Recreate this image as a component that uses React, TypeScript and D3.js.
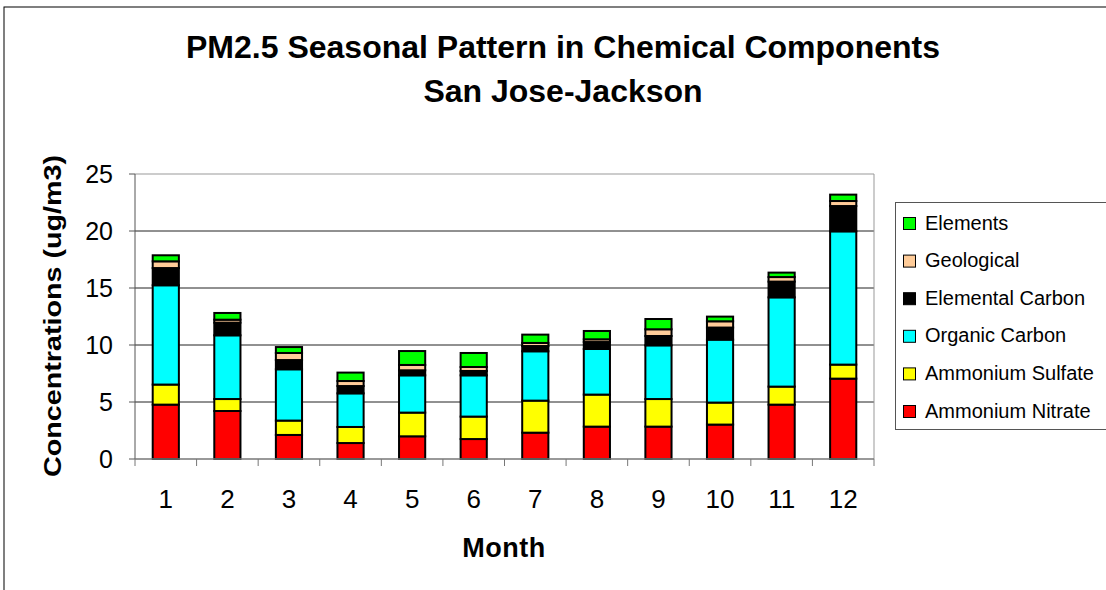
import React from "react";
import * as d3 from "d3";

const months = ["1", "2", "3", "4", "5", "6", "7", "8", "9", "10", "11", "12"];
const ammoniumNitrate = [4.77, 4.21, 2.11, 1.4, 1.99, 1.75, 2.31, 2.84, 2.84, 3.02, 4.77, 7.05];
const ammoniumSulfate = [1.76, 1.05, 1.26, 1.41, 2.08, 1.97, 2.81, 2.81, 2.42, 1.93, 1.58, 1.23];
const organicCarbon = [8.71, 5.59, 4.5, 2.95, 3.27, 3.62, 4.33, 4.0, 4.71, 5.52, 7.83, 11.69];
const elementalCarbon = [1.51, 1.11, 0.81, 0.64, 0.44, 0.38, 0.46, 0.61, 0.82, 1.06, 1.38, 2.22];
const geological = [0.59, 0.26, 0.62, 0.44, 0.47, 0.35, 0.27, 0.24, 0.59, 0.55, 0.4, 0.44];
const elements = [0.53, 0.59, 0.52, 0.74, 1.22, 1.23, 0.73, 0.73, 0.9, 0.41, 0.39, 0.56];

const seriesNames = ["Ammonium Nitrate", "Ammonium Sulfate", "Organic Carbon", "Elemental Carbon", "Geological", "Elements"];
const seriesValues = [ammoniumNitrate, ammoniumSulfate, organicCarbon, elementalCarbon, geological, elements];
const seriesColors = ["#FF0000", "#FFFF00", "#00FFFF", "#000000", "#FFCC99", "#00FF00"];
const yTicks = [0, 5, 10, 15, 20, 25];

const W = 1106;
const H = 590;
const plot = { left: 135, right: 874, top: 174, bottom: 459 };
const FONT = "'Liberation Sans', Arial, sans-serif";

export default function App() {
  const x = d3.scaleBand<string>().domain(months).range([plot.left, plot.right]).paddingInner(0.575).paddingOuter(0.2875);
  const xTick = d3.scaleLinear().domain([0, months.length]).range([plot.left, plot.right]);
  const y = d3.scaleLinear().domain([0, 25]).range([plot.bottom, plot.top]);

  const table = months.map((m, i) => {
    const row: Record<string, any> = { month: m };
    seriesNames.forEach((s, k) => (row[s] = seriesValues[k][i]));
    return row;
  });
  const stacked = d3.stack().keys(seriesNames)(table as any);

  const legendItems = [...seriesNames.map((n, i) => ({ n, c: seriesColors[i] }))].reverse();

  return (
    <svg width={W} height={H} style={{ position: "absolute", left: 0, top: 0, background: "#fff" }} fontFamily={FONT}>
      <rect x={4} y={7} width={1200} height={700} fill="#fff" stroke="#000" strokeWidth={1} />
      <text x={563} y={58} textAnchor="middle" fontSize={32} fontWeight="bold">PM2.5 Seasonal Pattern in Chemical Components</text>
      <text x={563} y={102} textAnchor="middle" fontSize={32} fontWeight="bold">San Jose-Jackson</text>

      {yTicks.slice(1).map((t) => (
        <line key={t} x1={plot.left} x2={plot.right} y1={y(t)} y2={y(t)} stroke={t === 25 ? "#999" : "#222"} strokeWidth={1} />
      ))}
      <line x1={plot.right} x2={plot.right} y1={plot.top} y2={plot.bottom} stroke="#999" strokeWidth={1} />

      {stacked.map((layer, k) => (
        <g key={seriesNames[k]}>
          {layer.map((d, i) => (
            <rect key={i} x={x(months[i])!} y={y(d[1])} width={x.bandwidth()} height={y(d[0]) - y(d[1])}
              fill={seriesColors[k]} stroke="#000" strokeWidth={2} />
          ))}
        </g>
      ))}

      <line x1={plot.left} x2={plot.left} y1={plot.top} y2={plot.bottom} stroke="#555" strokeWidth={1} />
      <line x1={plot.left} x2={plot.right} y1={plot.bottom} y2={plot.bottom} stroke="#777" strokeWidth={1.5} />
      {yTicks.map((t) => (
        <g key={t}>
          <line x1={plot.left - 6} x2={plot.left} y1={y(t)} y2={y(t)} stroke="#555" />
          <text x={113} y={y(t) + 9} textAnchor="end" fontSize={25}>{t}</text>
        </g>
      ))}
      {d3.range(months.length + 1).map((i) => (
        <line key={i} x1={xTick(i)} x2={xTick(i)} y1={plot.bottom} y2={plot.bottom + 7} stroke="#777" />
      ))}
      {months.map((m) => (
        <text key={m} x={x(m)! + x.bandwidth() / 2} y={508} textAnchor="middle" fontSize={26}>{m}</text>
      ))}
      <text x={504} y={557} textAnchor="middle" fontSize={27} fontWeight="bold" letterSpacing={0.5}>Month</text>
      <text transform={`translate(61,316) rotate(-90)`} textAnchor="middle" fontSize={24} fontWeight="bold"
        textLength={322} lengthAdjust="spacingAndGlyphs">Concentrations (ug/m3)</text>

      <rect x={895.5} y={202.5} width={220} height={227} fill="#fff" stroke="#555" />
      {legendItems.map((it, i) => (
        <g key={it.n}>
          <rect x={903.5} y={217.5 + i * 37.6} width={12} height={12} fill={it.c} stroke="#000" strokeWidth={1} />
          <text x={925} y={229.5 + i * 37.6} fontSize={20}>{it.n}</text>
        </g>
      ))}
    </svg>
  );
}
